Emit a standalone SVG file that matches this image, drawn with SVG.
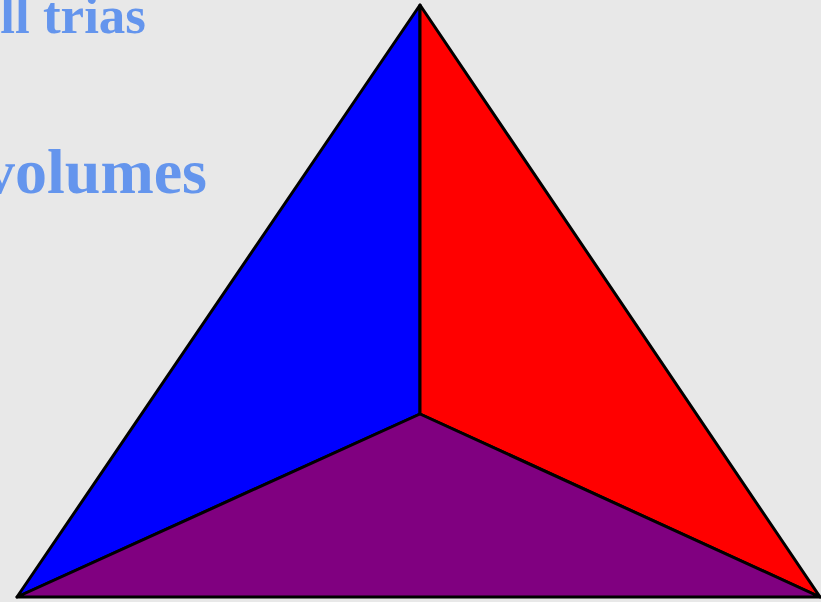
<svg xmlns="http://www.w3.org/2000/svg" width="821" height="602" viewBox="0 0 821 602">
<style>
.t{font-family:"Liberation Serif","Times New Roman",serif;font-weight:bold;fill:#6495ED;text-anchor:end}
.f{stroke:#000;stroke-width:3;stroke-linejoin:round}
</style>
<rect width="821" height="602" fill="#E8E8E8"/>
<text class="t" x="146" y="33" font-size="53">ll trias</text>
<text class="t" x="207" y="193" font-size="64">volumes</text>
<g id="connectors"></g>
<g id="face-left"><polygon class="f" points="420,5 420,414 17,597" fill="#0000FF"/></g>
<g id="face-right"><polygon class="f" points="420,5 820,597 420,414" fill="#FF0000"/></g>
<g id="face-bottom"><polygon class="f" points="17,597 420,414 820,597" fill="#800080"/></g>
</svg>
